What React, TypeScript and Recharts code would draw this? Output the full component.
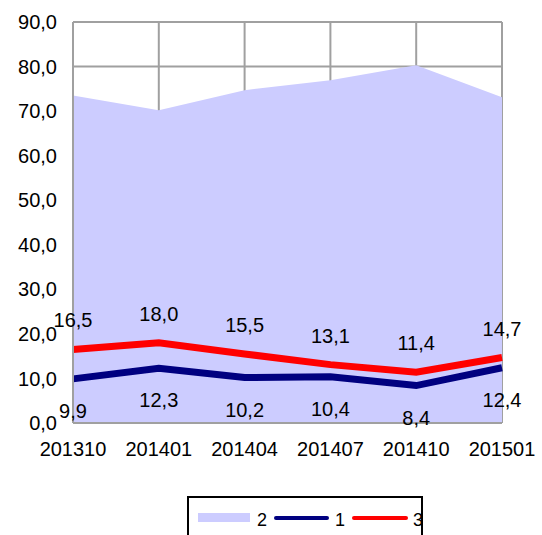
import React from 'react';
import { ComposedChart, Area, Line, XAxis, YAxis, CartesianGrid, Legend, LabelList } from 'recharts';

const periods = ['201310', '201401', '201404', '201407', '201410', '201501'];
const series2 = [73.5, 70.2, 74.7, 76.9, 80.3, 73.1];
const series1 = [9.9, 12.3, 10.2, 10.4, 8.4, 12.4];
const series3 = [16.5, 18.0, 15.5, 13.1, 11.4, 14.7];
const yTicks = [0, 10, 20, 30, 40, 50, 60, 70, 80, 90];

const data = periods.map((p, i) => ({ period: p, v2: series2[i], v1: series1[i], v3: series3[i] }));

const fmt = (v: number) => v.toFixed(1).replace('.', ',');
const FONT = '"Liberation Sans", Arial, sans-serif';

const makeLabel = (dy: number) => (props: any) => {
  const { x, y, value } = props;
  return (
    <text x={x} y={y + dy} textAnchor="middle" dominantBaseline="central" fontSize={20} fontFamily={FONT} fill="#000">
      {fmt(Number(value))}
    </text>
  );
};

const LegendBox = () => (
  <div style={{ position: 'relative', boxSizing: 'border-box', width: 236, height: 45, border: '2px solid #000', fontFamily: FONT, fontSize: 18, lineHeight: '18px', background: '#fff' }}>
    <div style={{ position: 'absolute', left: 9, top: 15, width: 52, height: 9, background: '#ccccff' }} />
    <span style={{ position: 'absolute', left: 68, top: 13 }}>2</span>
    <div style={{ position: 'absolute', left: 85, top: 18, width: 55, height: 4, background: '#000080', borderRadius: 2 }} />
    <span style={{ position: 'absolute', left: 146, top: 13 }}>1</span>
    <div style={{ position: 'absolute', left: 163, top: 18, width: 56, height: 4, background: '#ff0000', borderRadius: 2 }} />
    <span style={{ position: 'absolute', left: 224, top: 13 }}>3</span>
  </div>
);

export default function App() {
  return (
    <div style={{ position: 'absolute', left: 0, top: 0, width: 542, height: 535, overflow: 'hidden', background: '#fff' }}>
      <ComposedChart width={542} height={535} data={data} margin={{ top: 22, right: 40, left: 0, bottom: 0 }}>
        <CartesianGrid stroke="#a0a0a0" strokeWidth={2} vertical={true} horizontal={true} />
        <XAxis
          dataKey="period"
          interval={0}
          tickSize={0}
          tickMargin={19}
          height={67}
          axisLine={{ stroke: '#a0a0a0', strokeWidth: 2 }}
          tick={{ fontSize: 20, fontFamily: FONT, fill: '#000' }}
          padding={{ left: 0, right: 0 }}
        />
        <YAxis
          domain={[0, 90]}
          ticks={yTicks}
          width={73}
          tickSize={0}
          tickMargin={16}
          tickFormatter={fmt}
          axisLine={{ stroke: '#a0a0a0', strokeWidth: 2 }}
          tick={{ fontSize: 20, fontFamily: FONT, fill: '#000' }}
        />
        <Legend
          verticalAlign="bottom"
          content={() => <LegendBox />}
          wrapperStyle={{ left: 187, top: 496, width: 236, height: 45 }}
        />
        <Area type="linear" dataKey="v2" name="2" fill="#ccccff" fillOpacity={1} stroke="none" isAnimationActive={false} />
        <Line type="linear" dataKey="v1" name="1" stroke="#000080" strokeWidth={7} dot={false} isAnimationActive={false}>
          <LabelList dataKey="v1" content={makeLabel(32)} />
        </Line>
        <Line type="linear" dataKey="v3" name="3" stroke="#ff0000" strokeWidth={7} dot={false} isAnimationActive={false}>
          <LabelList dataKey="v3" content={makeLabel(-29)} />
        </Line>
      </ComposedChart>
    </div>
  );
}
